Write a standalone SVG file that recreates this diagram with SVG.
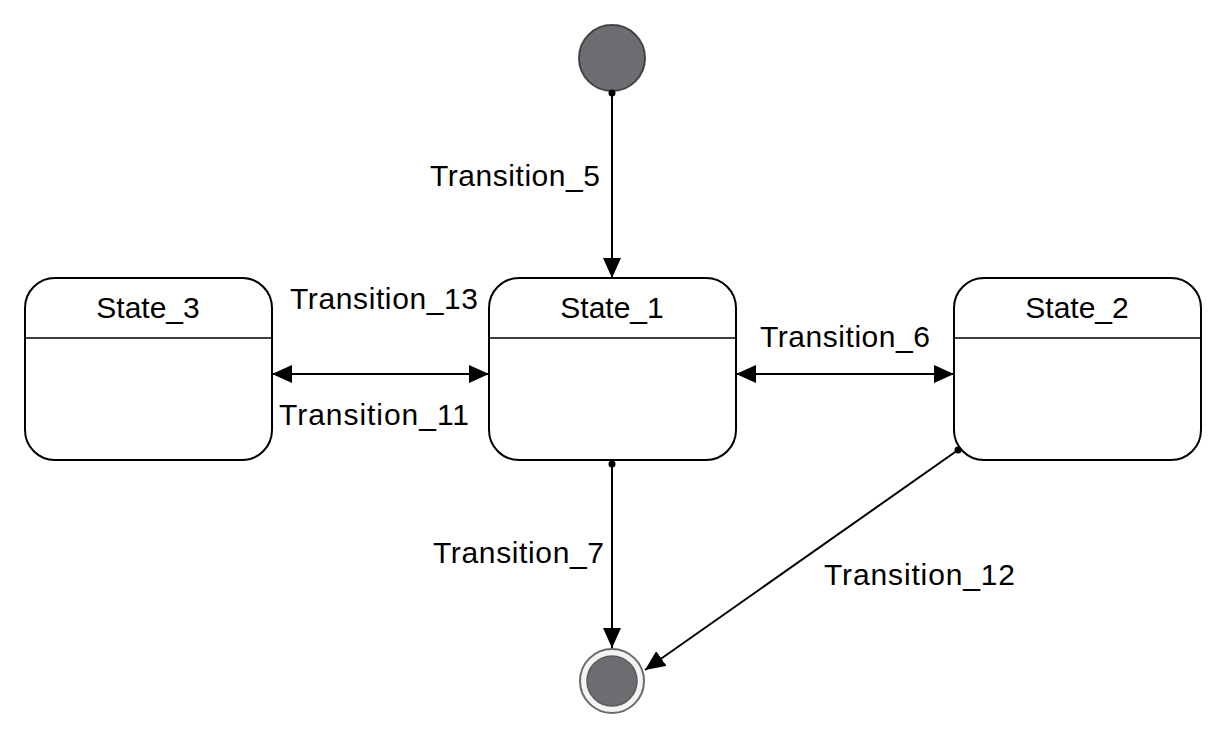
<svg xmlns="http://www.w3.org/2000/svg" width="1226" height="738" viewBox="0 0 1226 738">
<style>
.st{fill:#fff;stroke:#000;stroke-width:2}
.dv{stroke:#000;stroke-width:1.5}
.t{font-family:"Liberation Sans",Arial,sans-serif;font-size:30px;fill:#000}
.c{stroke:#000;stroke-width:2;fill:none}
</style>
<defs>
<marker id="ah" viewBox="0 0 20 18" refX="20" refY="9" markerWidth="20" markerHeight="18" markerUnits="userSpaceOnUse" orient="auto-start-reverse">
<path d="M0,0 L20,9 L0,18 Z" fill="#000"/>
</marker>
<marker id="dot" viewBox="0 0 8 8" refX="4" refY="4" markerWidth="8" markerHeight="8" markerUnits="userSpaceOnUse">
<circle cx="4" cy="4" r="3.5" fill="#000"/>
</marker>
</defs>
<rect width="1226" height="738" fill="#fff"/>
<g id="initial">
<circle cx="612" cy="58" r="33" fill="#6d6d71" stroke="#444" stroke-width="2"/>
</g>
<g id="final">
<circle cx="612" cy="681" r="32" fill="#f4f4f4" stroke="#6a6a6a" stroke-width="2"/>
<circle cx="612" cy="681" r="25" fill="#6d6d71" stroke="#5a5a5a" stroke-width="1.5"/>
</g>
<g id="state_3">
<rect class="st" x="25" y="278" width="247" height="182" rx="30"/>
<line class="dv" x1="25" y1="338" x2="272" y2="338"/>
<text class="t" x="148" y="318" text-anchor="middle">State_3</text>
</g>
<g id="state_1">
<rect class="st" x="489" y="278" width="247" height="182" rx="30"/>
<line class="dv" x1="489" y1="338" x2="736" y2="338"/>
<text class="t" x="612" y="318" text-anchor="middle">State_1</text>
</g>
<g id="state_2">
<rect class="st" x="954" y="278" width="247" height="182" rx="30"/>
<line class="dv" x1="954" y1="338" x2="1201" y2="338"/>
<text class="t" x="1077" y="318" text-anchor="middle">State_2</text>
</g>
<g id="connectors">
<line class="c" x1="612" y1="93" x2="612" y2="278" marker-start="url(#dot)" marker-end="url(#ah)"/>
<line class="c" x1="612" y1="464" x2="612" y2="648" marker-start="url(#dot)" marker-end="url(#ah)"/>
<line class="c" x1="958" y1="450" x2="645" y2="670" marker-start="url(#dot)" marker-end="url(#ah)"/>
<line class="c" x1="272" y1="374" x2="489" y2="374" marker-start="url(#ah)" marker-end="url(#ah)"/>
<line class="c" x1="736" y1="374" x2="954" y2="374" marker-start="url(#ah)" marker-end="url(#ah)"/>
<text class="t" x="430" y="186" textLength="170">Transition_5</text>
<text class="t" x="290" y="309" textLength="188">Transition_13</text>
<text class="t" x="279" y="425" textLength="190">Transition_11</text>
<text class="t" x="760" y="347" textLength="170">Transition_6</text>
<text class="t" x="433" y="563" textLength="171">Transition_7</text>
<text class="t" x="824" y="585" textLength="191">Transition_12</text>
</g>
</svg>
